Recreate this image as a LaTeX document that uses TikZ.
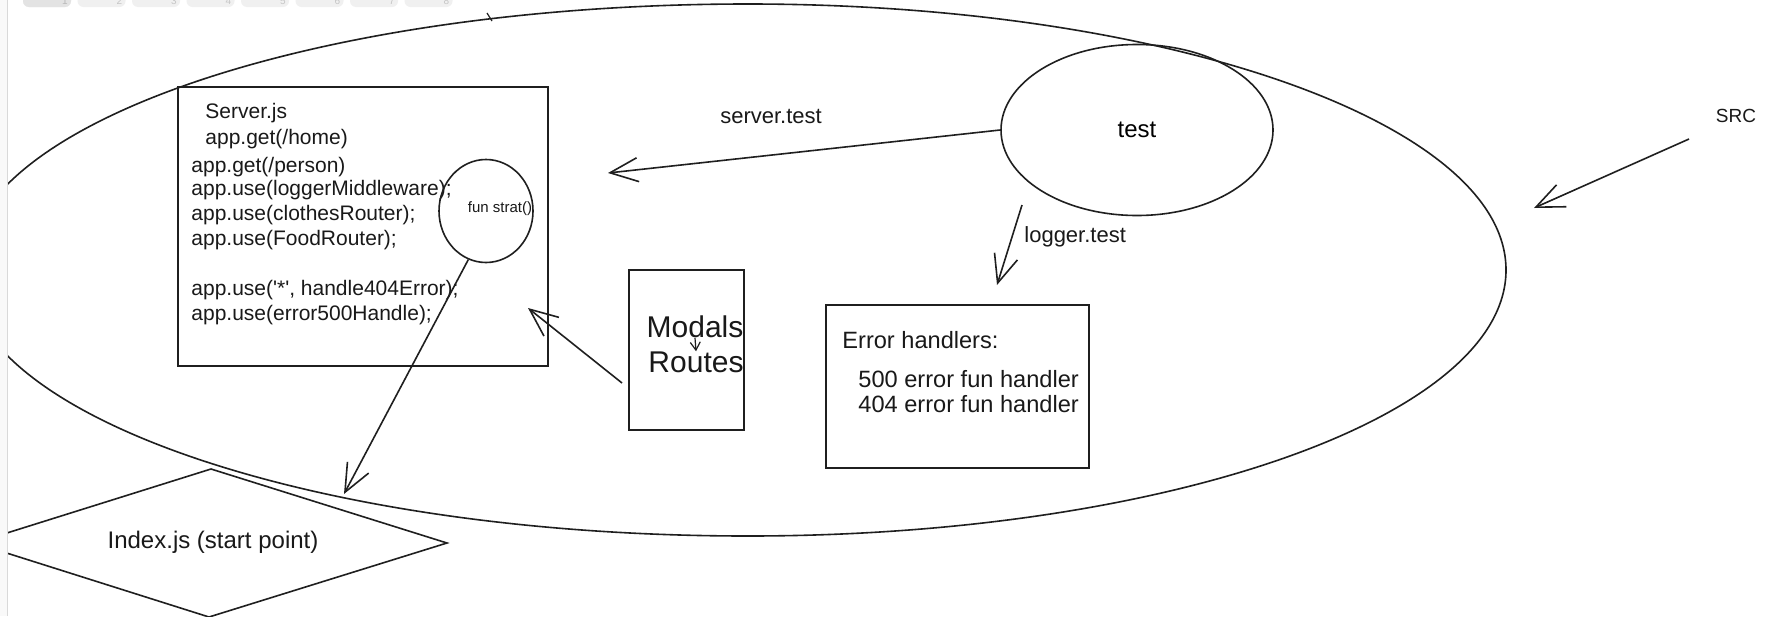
\documentclass[tikz,border=0pt]{standalone}
\usepackage{fontspec}
\setmainfont{Liberation Sans}
\usetikzlibrary{arrows.meta,shapes.geometric}
\begin{document}
\begin{tikzpicture}[x=0.5pt,y=-0.5pt,
  ink/.style={draw=black!88, line width=0.8pt},
  arr/.style={ink, -{Straight Barb[length=14pt,width=12pt]}},
  box/.style={ink, rectangle, inner sep=0pt},
  txt/.style={inner sep=0pt, text=black!90},
  codetxt/.style={txt, anchor=mid west, font=\fontsize{10.5}{12}\selectfont},
  errtxt/.style={txt, anchor=mid west, font=\fontsize{11.8}{12}\selectfont},
  lbltxt/.style={txt, font=\fontsize{11}{12}\selectfont},
  tabbtn/.style={fill=gray!12, rounded corners=3pt}]
\useasboundingbox (0,0) rectangle (1776,616);
\fill[white] (0,0) rectangle (1776,616);
% page edge
\fill[gray!5] (0,0) rectangle (7,616);
\draw[gray!30, line width=0.5pt] (7,0) -- (7,616);
% faint tab buttons
\foreach \i/\xx in {1/23,2/77.5,3/132,4/186.5,5/241,6/295.5,7/350,8/404.5}{
  \fill[tabbtn] (\xx,-10) rectangle ++(48,17);
  \node[inner sep=0pt, text=gray!45, font=\fontsize{5}{5}\selectfont] at (\xx+42,1) {\i};
}
\fill[gray!22, rounded corners=3pt] (23,-10) rectangle ++(48,17);
\node[inner sep=0pt, text=gray!55, font=\fontsize{5}{5}\selectfont] at (65,1) {1};

% big SRC ellipse and start diamond (cut at page edge)
\begin{scope}
\clip (8,0) rectangle (1776,616);
\draw[ink] (748,4) arc[start angle=90,end angle=270,x radius=391pt,y radius=133pt]
  arc[start angle=-90,end angle=90,x radius=379pt,y radius=133pt] -- cycle;
\draw[ink] (211,469) -- (447,543) -- (209,617) -- (-25,543) -- cycle;
\end{scope}
\draw[ink, line width=0.6pt] (487,13) -- (492,21);

% Server.js box
\node[box, minimum width=185pt, minimum height=139.5pt] (srv) at (363,226.5) {};
\node[codetxt] (s1) at (205,113) {Server.js};
\node[codetxt] (s2) at (205,139) {app.get(/home)};
\node[codetxt] (s3) at (191,167) {app.get(/person)};
\node[codetxt] (s4) at (191,190) {app.use(loggerMiddleware);};
\node[codetxt] (s5) at (191,215) {app.use(clothesRouter);};
\node[codetxt] (s6) at (191,240) {app.use(FoodRouter);};
\node[codetxt] (s7) at (191,290) {app.use(\textquotesingle*\textquotesingle, handle404Error);};
\node[codetxt] (s8) at (191,315) {app.use(error500Handle);};

% fun strat circle
\node[ink, ellipse, minimum width=47pt, minimum height=51.5pt, inner sep=0pt] (fs) at (486,211) {};
\node[txt, anchor=mid, font=\fontsize{7.5}{8}\selectfont] (fslbl) at (500,207) {fun strat()};
\coordinate (fsend) at (344,494);
\draw[arr] (fs.250) -- (fsend);

% Index.js
\node[txt, anchor=mid, font=\fontsize{12}{12}\selectfont] (idx) at (213,543) {Index.js (start point)};

% test ellipse
\node[ink, ellipse, minimum width=136pt, minimum height=85.5pt, inner sep=0pt,
      font=\fontsize{12}{12}\selectfont] (test) at (1137,130) {test};
\coordinate (stend) at (608,173);
\draw[arr] (test.west) -- (stend);
\node[lbltxt, anchor=mid] (stlbl) at (771,118) {server.test};

\coordinate (lgs) at (1022,205);
\coordinate (lge) at (997,285);
\draw[arr] (lgs) -- (lge);
\node[lbltxt, anchor=mid west] (lglbl) at (1024,237) {logger.test};

% Modals / Routes
\node[box, minimum width=57.5pt, minimum height=80pt] (mod) at (686.5,350) {};
\node[txt, anchor=mid, font=\fontsize{15}{15}\selectfont] (modt) at (695,332) {Modals};
\node[txt, anchor=mid, font=\fontsize{15}{15}\selectfont] (rout) at (696,367) {Routes};
\draw[ink, line width=0.6pt, -{Straight Barb[length=4pt,width=5pt]}] (modt.south) -- (rout.north);
\coordinate (mds) at (622,383);
\coordinate (mde) at (528,308);
\draw[arr] (mds) -- (mde);

% Error handlers
\node[box, minimum width=131.5pt, minimum height=81.5pt] (err) at (957.5,386.5) {};
\node[errtxt] (e1) at (842,343) {Error handlers:};
\node[errtxt] (e2) at (858,382) {500 error fun handler};
\node[errtxt] (e3) at (858,407) {404 error fun handler};

% SRC
\node[txt, anchor=mid, font=\fontsize{9.5}{10}\selectfont] (src) at (1736,117) {SRC};
\coordinate (srcs) at (1689,139);
\coordinate (srce) at (1534,208);
\draw[arr] (srcs) -- (srce);
\end{tikzpicture}
\end{document}
